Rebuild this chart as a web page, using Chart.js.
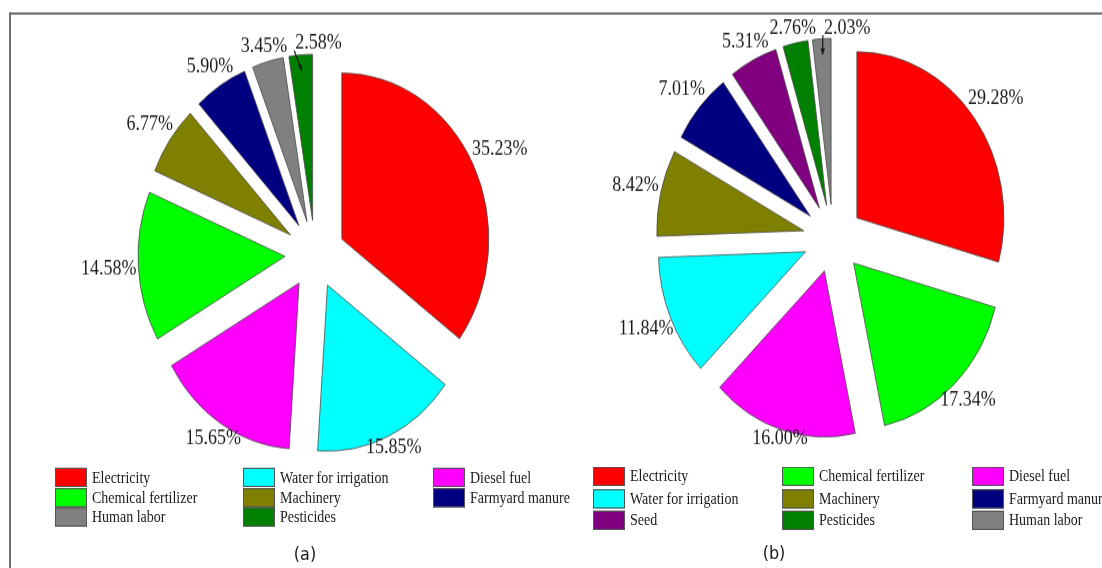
<!DOCTYPE html>
<html>
<head>
<meta charset="utf-8">
<script src="https://cdn.jsdelivr.net/npm/chart.js@4.4.1/dist/chart.umd.min.js"></script>
<style>
  html, body { margin: 0; background: #fff; overflow: hidden; width: 1102px; height: 568px; }
  /* the source figure is a bit taller than wide, so the whole thing is stretched vertically */
  #fig { position: absolute; left: 0; top: 0; width: 1102px; height: 503px; transform: scaleY(1.13); transform-origin: 0 0; font-family: "Liberation Serif", serif; color: #1a1a1a; }
  #frame { position: absolute; left: 9px; top: 11px; width: 1200px; height: 600px; border-top: 2px solid #707070; border-left: 2px solid #707070; }
  canvas { position: absolute; }
  .item { position: absolute; white-space: nowrap; font-size: 14px; line-height: 17px; height: 17px; }
  .swatch { position: absolute; left: 0; top: 0; width: 30px; height: 15px; border: 1px solid #555; }
  .txt { position: absolute; left: 37px; top: 0; }
  .caption { position: absolute; width: 60px; text-align: center; font: 16px "DejaVu Sans", sans-serif; line-height: 20px; }
</style>
</head>
<body>
<div id="fig">
  <div id="frame"></div>
  <canvas id="pieA" width="500" height="400" style="left:65px; top:25px;"></canvas>
  <canvas id="pieB" width="500" height="400" style="left:583px; top:11px;"></canvas>
  <div class="caption" style="left:275px; top:481px;">(a)</div>
  <div class="caption" style="left:744px; top:480px;">(b)</div>
</div>
<script>
// chart (a)
const labelsA = ['Electricity', 'Water for irrigation', 'Diesel fuel', 'Chemical fertilizer', 'Machinery', 'Farmyard manure', 'Human labor', 'Pesticides'];
const valuesA = [35.23, 15.85, 15.65, 14.58, 6.77, 5.90, 3.45, 2.58];

// chart (b)
const labelsB = ['Electricity', 'Chemical fertilizer', 'Diesel fuel', 'Water for irrigation', 'Machinery', 'Farmyard manure', 'Seed', 'Pesticides', 'Human labor'];
const valuesB = [29.28, 17.34, 16.00, 11.84, 8.42, 7.01, 5.31, 2.76, 2.03];

const colorOf = {
    'Electricity': '#ff0000',
    'Water for irrigation': '#00ffff',
    'Diesel fuel': '#ff00ff',
    'Chemical fertilizer': '#00ff00',
    'Machinery': '#808000',
    'Farmyard manure': '#000080',
    'Human labor': '#808080',
    'Pesticides': '#008000',
    'Seed': '#800080'
};

// Chart.js grows small exploded slices outward; keep every slice at the same radius
const ArcEl = Chart.ArcElement || Chart.elements.ArcElement;
const arcDraw = ArcEl.prototype.draw;
ArcEl.prototype.draw = function (ctx) {
    const c = this.circumference;
    this.circumference = Math.PI / 2;
    arcDraw.call(this, ctx);
    this.circumference = c;
};

// percentage labels just outside each slice
const pctLabels = {
    id: 'pctLabels',
    afterDatasetsDraw(chart) {
        const ctx = chart.ctx;
        const meta = chart.getDatasetMeta(0);
        const vals = chart.data.datasets[0].data;
        const last = meta.data.length - 1;
        const h = 12;
        const boxes = [];
        ctx.save();
        ctx.font = '18px "Liberation Serif", serif';
        ctx.fillStyle = '#1a1a1a';
        ctx.strokeStyle = '#1a1a1a';
        ctx.textAlign = 'center';
        ctx.textBaseline = 'middle';
        meta.data.forEach((arc, i) => {
            const p = arc.getProps(['x', 'y', 'startAngle', 'endAngle', 'outerRadius'], true);
            const mid = (p.startAngle + p.endAngle) / 2;
            const cos = Math.cos(mid), sin = Math.sin(mid);
            const shift = (arc.options.offset || 0) / 4;
            const ax = p.x + cos * shift, ay = p.y + sin * shift;
            const text = vals[i].toFixed(2) + '%';
            const w = ctx.measureText(text).width;
            let d = p.outerRadius + 2 + Math.abs(cos) * w / 2 + Math.abs(sin) * h / 2;
            if (sin > 0) d -= 8 * sin; // lower labels sit a little tighter to the rim
            let lx = ax + cos * d, ly = ay + sin * d;
            const prev = boxes[i - 1];
            // the smallest slice at the top gets pushed right, with a pointer
            let leader = false;
            if (i === last && prev && lx - w / 2 < prev.x + prev.w / 2 + 8) {
                lx = prev.x + prev.w / 2 + 8 + w / 2;
                leader = true;
            }
            boxes.push({x: lx, y: ly, w: w});
            ctx.fillText(text, lx, ly);
            if (leader) {
                const x0 = lx - w / 2 - 1, y0 = ly + h / 2;
                const x1 = ax + cos * (p.outerRadius - 14), y1 = ay + sin * (p.outerRadius - 14);
                ctx.lineWidth = 1.2;
                ctx.beginPath();
                ctx.moveTo(x0, y0);
                ctx.lineTo(x1, y1);
                ctx.stroke();
                const a = Math.atan2(y1 - y0, x1 - x0);
                ctx.beginPath();
                ctx.moveTo(x1, y1);
                ctx.lineTo(x1 - 6 * Math.cos(a - 0.4), y1 - 6 * Math.sin(a - 0.4));
                ctx.lineTo(x1 - 6 * Math.cos(a + 0.4), y1 - 6 * Math.sin(a + 0.4));
                ctx.closePath();
                ctx.fill();
            }
        });
        ctx.restore();
    }
};

function makePie(id, labels, values) {
    new Chart(document.getElementById(id), {
        type: 'pie',
        data: {
            labels: labels,
            datasets: [{
                data: values,
                backgroundColor: labels.map(l => colorOf[l]),
                borderColor: '#4a4a4a',
                borderWidth: 0.8,
                offset: 120,
                hoverOffset: 0,
                clip: false
            }]
        },
        options: {
            responsive: false,
            animation: false,
            events: [],
            radius: 147,
            plugins: {
                legend: { display: false },
                tooltip: { enabled: false }
            }
        },
        plugins: [pctLabels]
    });
}

// legend in three columns, filled row by row
function makeLegend(labels, colX, top, rowGap) {
    const fig = document.getElementById('fig');
    labels.forEach((l, i) => {
        const item = document.createElement('div');
        item.className = 'item';
        item.style.left = colX[i % 3] + 'px';
        item.style.top = (top + Math.floor(i / 3) * rowGap) + 'px';
        item.innerHTML = '<div class="swatch" style="background:' + colorOf[l] + '"></div><span class="txt">' + l + '</span>';
        fig.appendChild(item);
    });
}

makePie('pieA', labelsA, valuesA);
makePie('pieB', labelsB, valuesB);
makeLegend(labelsA, [55, 243, 433], 414, 17.7);
makeLegend(labelsB, [593, 782, 972], 413, 19.5);
</script>
</body>
</html>
